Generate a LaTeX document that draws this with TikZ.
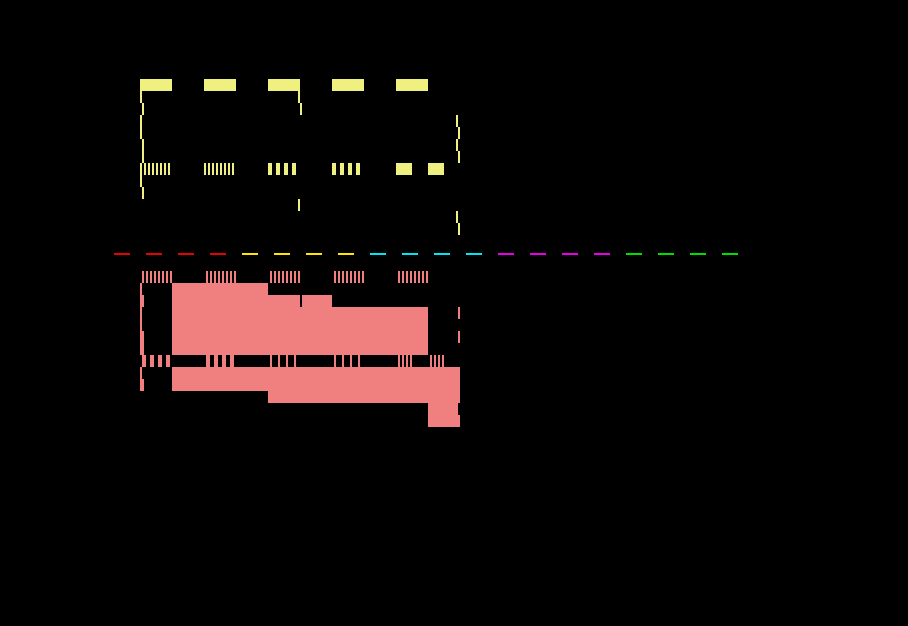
\documentclass[tikz,border=0pt]{standalone}
\definecolor{ylw}{RGB}{240,240,128}
\definecolor{pnk}{RGB}{240,128,128}
\definecolor{dred}{RGB}{230,0,0}
\definecolor{dyel}{RGB}{255,230,0}
\definecolor{dcya}{RGB}{0,230,240}
\definecolor{dmag}{RGB}{230,0,230}
\definecolor{dgrn}{RGB}{0,220,0}
\begin{document}
\begin{tikzpicture}[x=1pt,y=-1pt]
\fill[black] (0,0) rectangle (908,626);
\useasboundingbox (0,0) rectangle (908,626);
% ---------- yellow part ----------
\foreach \x in {140,204,268,332,396} \fill[ylw] (\x,79) rectangle (\x+32,91);
\foreach \b in {140,204} \foreach \k in {0,...,7} \fill[ylw] (\b+4*\k,163) rectangle (\b+4*\k+2,175);
\foreach \b in {268,332} \foreach \k in {0,...,3} \fill[ylw] (\b+8*\k,163) rectangle (\b+8*\k+4,175);
\fill[ylw] (396,163) rectangle (412,175);
\fill[ylw] (428,163) rectangle (444,175);
% left wiggle
\fill[ylw] (140,91) rectangle (142,103);
\fill[ylw] (142,103) rectangle (144,115);
\fill[ylw] (140,115) rectangle (142,139);
\fill[ylw] (142,139) rectangle (144,163);
\fill[ylw] (140,163) rectangle (142,187);
\fill[ylw] (142,187) rectangle (144,199);
% middle wiggle
\fill[ylw] (298,91) rectangle (300,103);
\fill[ylw] (300,103) rectangle (302,115);
\fill[ylw] (298,199) rectangle (300,211);
% right wiggle
\fill[ylw] (456,115) rectangle (458,127);
\fill[ylw] (458,127) rectangle (460,139);
\fill[ylw] (456,139) rectangle (458,151);
\fill[ylw] (458,151) rectangle (460,163);
\fill[ylw] (456,211) rectangle (458,223);
\fill[ylw] (458,223) rectangle (460,235);
% ---------- dashed rainbow line ----------
\foreach \c [count=\g from 0] in {dred,dyel,dcya,dmag,dgrn}
  \foreach \k in {0,...,3}
    \fill[\c] ({114+32*(4*\g+\k)},253) rectangle +(16,2);
% ---------- pink part ----------
\foreach \b in {142,206,270,334,398} \foreach \k in {0,...,7} \fill[pnk] (\b+4*\k,271) rectangle (\b+4*\k+2,283);
\fill[pnk] (172,283) rectangle (268,295);
\fill[pnk] (172,295) rectangle (300,307);
\fill[pnk] (302,295) rectangle (332,307);
\fill[pnk] (172,307) rectangle (428,355);
\foreach \b in {142,206} \foreach \k in {0,...,3} \fill[pnk] (\b+8*\k,355) rectangle (\b+8*\k+4,367);
\foreach \b in {270,334} \foreach \k in {0,...,3} \fill[pnk] (\b+8*\k,355) rectangle (\b+8*\k+2,367);
\foreach \b in {398,430} \foreach \k in {0,...,3} \fill[pnk] (\b+4*\k,355) rectangle (\b+4*\k+2,367);
\fill[pnk] (172,367) rectangle (460,391);
\fill[pnk] (268,391) rectangle (460,403);
\fill[pnk] (428,403) rectangle (458,415);
\fill[pnk] (428,415) rectangle (460,427);
% pink left wiggle
\fill[pnk] (140,283) rectangle (142,295);
\fill[pnk] (140,295) rectangle (144,307);
\fill[pnk] (140,307) rectangle (142,331);
\fill[pnk] (140,331) rectangle (144,355);
\fill[pnk] (140,367) rectangle (142,379);
\fill[pnk] (140,379) rectangle (144,391);
% pink right wiggle
\fill[pnk] (458,307) rectangle (460,319);
\fill[pnk] (458,331) rectangle (460,343);
\end{tikzpicture}
\end{document}
